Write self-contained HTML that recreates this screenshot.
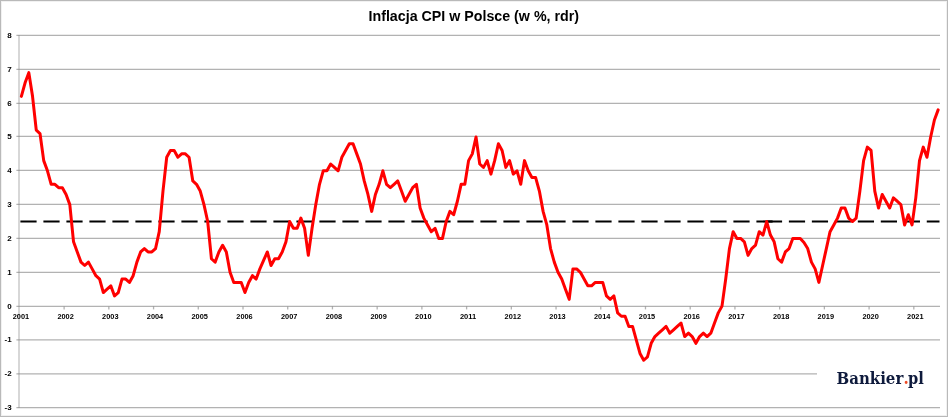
<!DOCTYPE html>
<html><head><meta charset="utf-8"><title>Inflacja CPI w Polsce</title>
<style>
html,body{margin:0;padding:0;background:#fff;}
body{width:948px;height:417px;overflow:hidden;}
svg{display:block;}
.ax text{font-family:"Liberation Sans",sans-serif;font-weight:bold;font-size:8px;fill:#000;}
.title{font-family:"Liberation Sans",sans-serif;font-weight:bold;font-size:14.3px;fill:#000;}
.logo{font-family:"DejaVu Serif Condensed","DejaVu Serif","Liberation Serif",serif;font-weight:bold;font-size:16.8px;fill:#0e1a3c;}
</style></head><body>
<svg width="948" height="417" viewBox="0 0 948 417">
<rect x="0" y="0" width="948" height="417" fill="#fff"/>
<rect x="1.5" y="1.5" width="945" height="414" fill="none" stroke="#f1f1f1" stroke-width="1"/>
<rect x="0.5" y="0.5" width="947" height="416" fill="none" stroke="#b9b9b9" stroke-width="1"/>
<text class="title" x="368.5" y="20.8" textLength="210.5" lengthAdjust="spacingAndGlyphs">Inflacja CPI w Polsce (w %, rdr)</text>
<g stroke="#868686" stroke-width="1.3" stroke-opacity="0.64">
<line x1="16.4" y1="35.45" x2="940" y2="35.45"/>
<line x1="16.4" y1="69.40" x2="940" y2="69.40"/>
<line x1="16.4" y1="103.40" x2="940" y2="103.40"/>
<line x1="16.4" y1="136.45" x2="940" y2="136.45"/>
<line x1="16.4" y1="170.40" x2="940" y2="170.40"/>
<line x1="16.4" y1="204.40" x2="940" y2="204.40"/>
<line x1="16.4" y1="238.45" x2="940" y2="238.45"/>
<line x1="16.4" y1="272.40" x2="940" y2="272.40"/>
<line x1="16.4" y1="306.40" x2="940" y2="306.40"/>
<line x1="16.4" y1="339.95" x2="940" y2="339.95"/>
<line x1="16.4" y1="373.90" x2="817" y2="373.90"/>
<line x1="16.4" y1="407.60" x2="940" y2="407.60"/>
<line x1="64.12" y1="306.4" x2="64.12" y2="309.4"/>
<line x1="108.84" y1="306.4" x2="108.84" y2="309.4"/>
<line x1="153.56" y1="306.4" x2="153.56" y2="309.4"/>
<line x1="198.28" y1="306.4" x2="198.28" y2="309.4"/>
<line x1="243.00" y1="306.4" x2="243.00" y2="309.4"/>
<line x1="287.72" y1="306.4" x2="287.72" y2="309.4"/>
<line x1="332.44" y1="306.4" x2="332.44" y2="309.4"/>
<line x1="377.17" y1="306.4" x2="377.17" y2="309.4"/>
<line x1="421.89" y1="306.4" x2="421.89" y2="309.4"/>
<line x1="466.61" y1="306.4" x2="466.61" y2="309.4"/>
<line x1="511.33" y1="306.4" x2="511.33" y2="309.4"/>
<line x1="556.05" y1="306.4" x2="556.05" y2="309.4"/>
<line x1="600.77" y1="306.4" x2="600.77" y2="309.4"/>
<line x1="645.49" y1="306.4" x2="645.49" y2="309.4"/>
<line x1="690.21" y1="306.4" x2="690.21" y2="309.4"/>
<line x1="734.93" y1="306.4" x2="734.93" y2="309.4"/>
<line x1="779.65" y1="306.4" x2="779.65" y2="309.4"/>
<line x1="824.37" y1="306.4" x2="824.37" y2="309.4"/>
<line x1="869.09" y1="306.4" x2="869.09" y2="309.4"/>
<line x1="913.81" y1="306.4" x2="913.81" y2="309.4"/>
<line x1="19" y1="35" x2="19" y2="408" stroke-opacity="0.5"/>
</g>
<g class="ax">
<text x="11.6" y="37.8" text-anchor="end">8</text>
<text x="11.6" y="71.7" text-anchor="end">7</text>
<text x="11.6" y="105.7" text-anchor="end">6</text>
<text x="11.6" y="138.8" text-anchor="end">5</text>
<text x="11.6" y="172.7" text-anchor="end">4</text>
<text x="11.6" y="206.7" text-anchor="end">3</text>
<text x="11.6" y="240.8" text-anchor="end">2</text>
<text x="11.6" y="274.7" text-anchor="end">1</text>
<text x="11.6" y="308.7" text-anchor="end">0</text>
<text x="11.6" y="342.2" text-anchor="end">-1</text>
<text x="11.6" y="376.2" text-anchor="end">-2</text>
<text x="11.6" y="409.9" text-anchor="end">-3</text>
<text x="12.7" y="319.1" textLength="16.4" lengthAdjust="spacingAndGlyphs">2001</text>
<text x="57.4" y="319.1" textLength="16.4" lengthAdjust="spacingAndGlyphs">2002</text>
<text x="102.1" y="319.1" textLength="16.4" lengthAdjust="spacingAndGlyphs">2003</text>
<text x="146.8" y="319.1" textLength="16.4" lengthAdjust="spacingAndGlyphs">2004</text>
<text x="191.5" y="319.1" textLength="16.4" lengthAdjust="spacingAndGlyphs">2005</text>
<text x="236.3" y="319.1" textLength="16.4" lengthAdjust="spacingAndGlyphs">2006</text>
<text x="281.0" y="319.1" textLength="16.4" lengthAdjust="spacingAndGlyphs">2007</text>
<text x="325.7" y="319.1" textLength="16.4" lengthAdjust="spacingAndGlyphs">2008</text>
<text x="370.4" y="319.1" textLength="16.4" lengthAdjust="spacingAndGlyphs">2009</text>
<text x="415.1" y="319.1" textLength="16.4" lengthAdjust="spacingAndGlyphs">2010</text>
<text x="459.9" y="319.1" textLength="16.4" lengthAdjust="spacingAndGlyphs">2011</text>
<text x="504.6" y="319.1" textLength="16.4" lengthAdjust="spacingAndGlyphs">2012</text>
<text x="549.3" y="319.1" textLength="16.4" lengthAdjust="spacingAndGlyphs">2013</text>
<text x="594.0" y="319.1" textLength="16.4" lengthAdjust="spacingAndGlyphs">2014</text>
<text x="638.8" y="319.1" textLength="16.4" lengthAdjust="spacingAndGlyphs">2015</text>
<text x="683.5" y="319.1" textLength="16.4" lengthAdjust="spacingAndGlyphs">2016</text>
<text x="728.2" y="319.1" textLength="16.4" lengthAdjust="spacingAndGlyphs">2017</text>
<text x="772.9" y="319.1" textLength="16.4" lengthAdjust="spacingAndGlyphs">2018</text>
<text x="817.6" y="319.1" textLength="16.4" lengthAdjust="spacingAndGlyphs">2019</text>
<text x="862.4" y="319.1" textLength="16.4" lengthAdjust="spacingAndGlyphs">2020</text>
<text x="907.1" y="319.1" textLength="16.4" lengthAdjust="spacingAndGlyphs">2021</text>
</g>
<line x1="20.4" y1="221.5" x2="775" y2="221.5" stroke="#000" stroke-width="2.2" stroke-dasharray="16.2 6.8"/>
<line x1="765.9" y1="221.5" x2="939.5" y2="221.5" stroke="#000" stroke-width="2.2" stroke-dasharray="16.2 6.78"/>
<polyline fill="none" stroke="#ff0000" stroke-width="3" stroke-linejoin="round" stroke-linecap="round" points="21.36,96.35 25.09,82.81 28.82,72.66 32.54,96.35 36.27,130.18 40.00,133.56 43.72,160.63 47.45,170.78 51.18,184.31 54.90,184.31 58.63,187.69 62.36,187.69 66.08,194.46 69.81,204.61 73.54,241.82 77.26,251.97 80.99,262.12 84.72,265.51 88.44,262.12 92.17,268.89 95.90,275.66 99.62,279.04 103.35,292.57 107.08,289.19 110.80,285.81 114.53,295.96 118.26,292.57 121.98,279.04 125.71,279.04 129.44,282.42 133.16,275.66 136.89,262.12 140.62,251.97 144.35,248.59 148.07,251.97 151.80,251.97 155.53,248.59 159.25,231.67 162.98,191.08 166.71,157.24 170.43,150.48 174.16,150.48 177.89,157.24 181.61,153.86 185.34,153.86 189.07,157.24 192.79,180.93 196.52,184.31 200.25,191.08 203.97,204.61 207.70,221.53 211.43,258.74 215.15,262.12 218.88,251.97 222.61,245.21 226.33,251.97 230.06,272.27 233.79,282.42 237.51,282.42 241.24,282.42 244.97,292.57 248.69,282.42 252.42,275.66 256.15,279.04 259.87,268.89 263.60,260.43 267.33,251.97 271.05,265.51 274.78,258.74 278.51,258.74 282.23,251.97 285.96,241.82 289.69,221.53 293.41,228.29 297.14,228.29 300.87,218.14 304.59,228.29 308.32,255.36 312.05,228.29 315.77,204.61 319.50,184.31 323.23,170.78 326.95,170.78 330.68,164.01 334.41,167.39 338.13,170.78 341.86,157.24 345.59,150.48 349.31,143.71 353.04,143.71 356.77,153.86 360.49,164.01 364.22,180.93 367.95,194.46 371.68,211.38 375.40,194.46 379.13,184.31 382.86,170.78 386.58,184.31 390.31,187.69 394.04,184.31 397.76,180.93 401.49,191.08 405.22,201.23 408.94,194.46 412.67,187.69 416.40,184.31 420.12,207.99 423.85,218.14 427.58,224.91 431.30,231.67 435.03,228.29 438.76,238.44 442.48,238.44 446.21,221.53 449.94,211.38 453.66,214.76 457.39,201.23 461.12,184.31 464.84,184.31 468.57,160.63 472.30,153.86 476.02,136.95 479.75,164.01 483.48,167.39 487.20,160.63 490.93,174.16 494.66,160.63 498.38,143.71 502.11,150.48 505.84,167.39 509.56,160.63 513.29,174.16 517.02,170.78 520.74,184.31 524.47,160.63 528.20,170.78 531.92,177.54 535.65,177.54 539.38,191.08 543.10,211.38 546.83,224.91 550.56,248.59 554.28,262.12 558.01,272.27 561.74,279.04 565.46,289.19 569.19,299.34 572.92,268.89 576.64,268.89 580.37,272.27 584.10,279.04 587.82,285.81 591.55,285.81 595.28,282.42 599.01,282.42 602.73,282.42 606.46,295.96 610.19,299.34 613.91,295.96 617.64,312.87 621.37,316.25 625.09,316.25 628.82,326.40 632.55,326.40 636.27,339.94 640.00,353.47 643.73,360.24 647.45,356.85 651.18,343.32 654.91,336.55 658.63,333.17 662.36,329.79 666.09,326.40 669.81,333.17 673.54,329.79 677.27,326.40 680.99,323.02 684.72,336.55 688.45,333.17 692.17,336.55 695.90,343.32 699.63,336.55 703.35,333.17 707.08,336.55 710.81,333.17 714.53,323.02 718.26,312.87 721.99,306.10 725.71,279.04 729.44,248.59 733.17,231.67 736.89,238.44 740.62,238.44 744.35,241.82 748.07,255.36 751.80,248.59 755.53,245.21 759.25,231.67 762.98,235.06 766.71,221.53 770.43,235.06 774.16,241.82 777.89,258.74 781.61,262.12 785.34,251.97 789.07,248.59 792.79,238.44 796.52,238.44 800.25,238.44 803.97,242.50 807.70,248.59 811.43,262.12 815.15,268.89 818.88,282.42 822.61,265.51 826.34,248.59 830.06,231.67 833.79,224.91 837.52,218.14 841.24,207.99 844.97,207.99 848.70,218.14 852.42,221.53 856.15,218.14 859.88,191.08 863.60,160.63 867.33,147.10 871.06,150.48 874.78,191.08 878.51,207.99 882.24,194.46 885.96,201.23 889.69,207.99 893.42,197.84 897.14,201.23 900.87,204.61 904.60,224.91 908.32,214.76 912.05,224.91 915.78,197.84 919.50,160.63 923.23,147.10 926.96,157.24 930.68,136.95 934.41,120.03 938.14,109.88"/>
<text class="logo" y="383.7"><tspan x="836.5" textLength="66.8" lengthAdjust="spacingAndGlyphs">Bankier</tspan><tspan x="903.5" fill="#ee4a23">.</tspan><tspan x="908.1" textLength="15.8" lengthAdjust="spacingAndGlyphs">pl</tspan></text>
</svg>
</body></html>
